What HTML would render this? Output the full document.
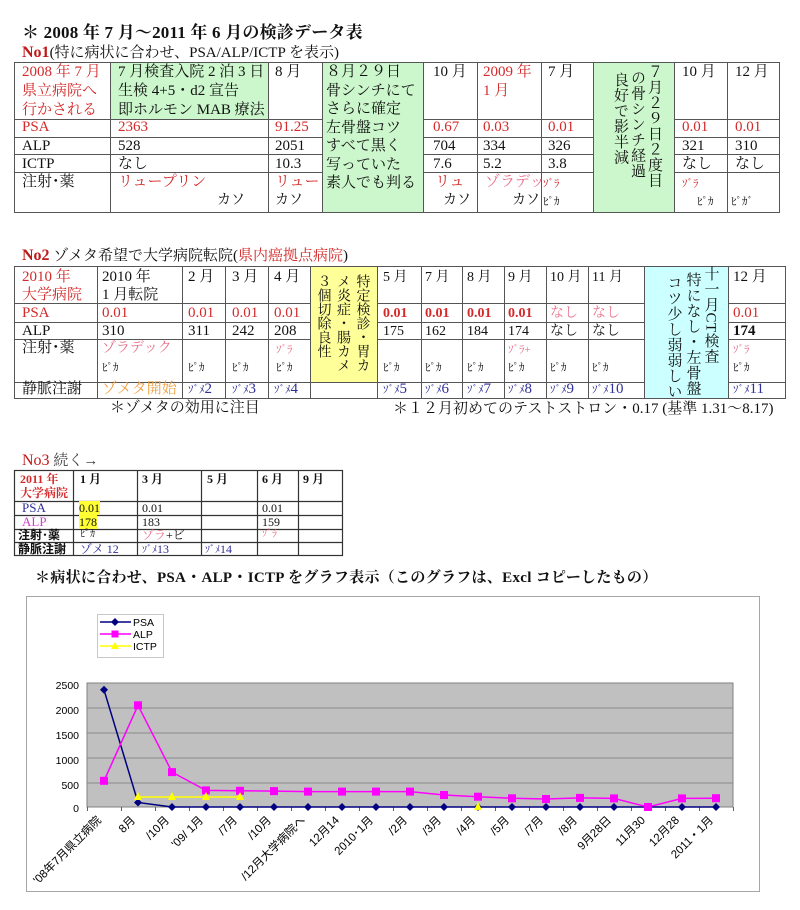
<!DOCTYPE html>
<html><head><meta charset="utf-8">
<style>
html,body{margin:0;padding:0;background:#fff;}
body{width:800px;height:910px;position:relative;overflow:hidden;font-family:"Liberation Serif","Noto Serif CJK SC",serif;color:#111;}
.t{position:absolute;white-space:nowrap;font-size:15px;line-height:19px;}
.r{color:#d42a2a}
.dr{color:#c01818}
.pk{color:#e8708a}
.or{color:#f0a040}
.bl{color:#30309a}
.mg{color:#cc44cc}
.s{font-size:11px}
.v{position:absolute;writing-mode:vertical-rl;text-orientation:upright;white-space:nowrap;font-size:15px;letter-spacing:0.5px;}
.g{font-family:"Liberation Sans","Noto Sans CJK JP",sans-serif;}
.n3{font-size:12px;line-height:14px;}
.hl{background:#ffff33;}
</style></head><body>
<svg width="800" height="910" style="position:absolute;left:0;top:0" xmlns="http://www.w3.org/2000/svg">
<!-- No1 -->
<rect x="110" y="62" width="158" height="57" fill="#ccf7cc"/>
<rect x="322" y="62" width="101" height="150" fill="#ccf7cc"/>
<rect x="593" y="62" width="81" height="150" fill="#ccf7cc"/>
<g stroke="#555" stroke-width="1" fill="none">
<rect x="14.5" y="62.5" width="765" height="150"/>
<path d="M110.5 62V212M268.5 62V212M322.5 62V212M423.5 62V212M477.5 62V212M541.5 62V212M593.5 62V212M674.5 62V212M727.5 62V212"/>
<path d="M14 119.5H322M423 119.5H593M674 119.5H779M14 137.5H322M423 137.5H593M674 137.5H779M14 154.5H322M423 154.5H593M674 154.5H779M14 172.5H322M423 172.5H593M674 172.5H779"/>
</g>
<!-- No2 -->
<rect x="310" y="266" width="67" height="116" fill="#ffff99"/>
<rect x="644" y="266" width="84" height="132" fill="#ccffff"/>
<g stroke="#555" stroke-width="1" fill="none">
<rect x="14.5" y="266.5" width="771" height="132"/>
<path d="M97.5 266V398M182.5 266V398M225.5 266V398M268.5 266V398M310.5 266V398M377.5 266V398M421.5 266V398M462.5 266V398M504.5 266V398M546.5 266V398M588.5 266V398M644.5 266V398M728.5 266V398"/>
<path d="M14 303.5H310M377 303.5H644M728 303.5H785M14 322.5H310M377 322.5H644M728 322.5H785M14 339.5H310M377 339.5H644M728 339.5H785M14 382.5H644M728 382.5H785"/>
</g>
<!-- No3 -->
<g stroke="#333" stroke-width="1.2" fill="none">
<rect x="14.5" y="470.5" width="328" height="85"/>
<path d="M73.5 470V555M137.5 470V555M201.5 470V555M257.5 470V555M298.5 470V555"/>
<path d="M14 501.5H342M14 515.5H342M14 529.5H342M14 542.5H342"/>
</g>
<!-- Chart -->
<rect x="26.5" y="596.5" width="733" height="295" fill="#fff" stroke="#a6a6a6"/>
<rect x="97.5" y="614.5" width="66" height="43" fill="#fff" stroke="#c8c8c8"/>
<line x1="100" y1="622" x2="131" y2="622" stroke="#000080" stroke-width="1.5"/>
<polygon points="115,618 119,622 115,626 111,622" fill="#000080"/>
<line x1="100" y1="634" x2="131" y2="634" stroke="#ff00ff" stroke-width="1.5"/>
<rect x="111.5" y="630.5" width="7" height="7" fill="#ff00ff"/>
<line x1="100" y1="646" x2="131" y2="646" stroke="#ffff00" stroke-width="1.5"/>
<polygon points="115,642 119,649 111,649" fill="#ffff00"/>
<g class="g" font-size="10.5" fill="#000">
<text x="133" y="626">PSA</text>
<text x="133" y="638">ALP</text>
<text x="133" y="650">ICTP</text>
</g>
<rect x="87" y="683" width="646" height="124" fill="#c0c0c0" stroke="#808080"/>
<g stroke="#8a8a8a" stroke-width="1">
<line x1="87" y1="708" x2="733" y2="708"/>
<line x1="87" y1="733" x2="733" y2="733"/>
<line x1="87" y1="758" x2="733" y2="758"/>
<line x1="87" y1="783" x2="733" y2="783"/>
</g>
<g stroke="#606060" stroke-width="1">
<path d="M87.5 807V811M121.5 807V811M155.5 807V811M189.5 807V811M223.5 807V811M257.5 807V811M291.5 807V811M325.5 807V811M359.5 807V811M393.5 807V811M427.5 807V811M461.5 807V811M495.5 807V811M529.5 807V811M563.5 807V811M597.5 807V811M631.5 807V811M665.5 807V811M699.5 807V811M733.5 807V811"/>
</g>
<g class="g" font-size="10.5" fill="#000" text-anchor="end">
<text x="79" y="689">2500</text>
<text x="79" y="714">2000</text>
<text x="79" y="739">1500</text>
<text x="79" y="764">1000</text>
<text x="79" y="789">500</text>
<text x="79" y="812">0</text>
</g>
<!-- PSA -->
<polyline fill="none" stroke="#000080" stroke-width="1.5" points="104,689.8 138,802.5 172,807 206,807 240,807 274,807 308,807 342,807 376,807 410,807 444,807 478,807 512,807 546,807 580,807 614,807 648,807 682,807 716,807"/>
<g fill="#000080">
<polygon points="104,685.8 108,689.8 104,693.8 100,689.8"/>
<polygon points="138,798.5 142,802.5 138,806.5 134,802.5"/>
<polygon points="172,803 176,807 172,811 168,807"/>
<polygon points="206,803 210,807 206,811 202,807"/>
<polygon points="240,803 244,807 240,811 236,807"/>
<polygon points="274,803 278,807 274,811 270,807"/>
<polygon points="308,803 312,807 308,811 304,807"/>
<polygon points="342,803 346,807 342,811 338,807"/>
<polygon points="376,803 380,807 376,811 372,807"/>
<polygon points="410,803 414,807 410,811 406,807"/>
<polygon points="444,803 448,807 444,811 440,807"/>
<polygon points="478,803 482,807 478,811 474,807"/>
<polygon points="512,803 516,807 512,811 508,807"/>
<polygon points="546,803 550,807 546,811 542,807"/>
<polygon points="580,803 584,807 580,811 576,807"/>
<polygon points="614,803 618,807 614,811 610,807"/>
<polygon points="648,803 652,807 648,811 644,807"/>
<polygon points="682,803 686,807 682,811 678,807"/>
<polygon points="716,803 720,807 716,811 712,807"/>
</g>
<!-- ALP -->
<polyline fill="none" stroke="#ff00ff" stroke-width="1.5" points="104,780.8 138,705.3 172,772.1 206,790.4 240,790.8 274,791.1 308,791.6 342,791.6 376,791.6 410,791.6 444,795 478,796.7 512,798.3 546,799 580,797.9 614,798.4 648,807 682,798.4 716,798.2"/>
<g fill="#ff00ff">
<rect x="100" y="776.8" width="8" height="8"/>
<rect x="134" y="701.3" width="8" height="8"/>
<rect x="168" y="768.1" width="8" height="8"/>
<rect x="202" y="786.4" width="8" height="8"/>
<rect x="236" y="786.8" width="8" height="8"/>
<rect x="270" y="787.1" width="8" height="8"/>
<rect x="304" y="787.6" width="8" height="8"/>
<rect x="338" y="787.6" width="8" height="8"/>
<rect x="372" y="787.6" width="8" height="8"/>
<rect x="406" y="787.6" width="8" height="8"/>
<rect x="440" y="791" width="8" height="8"/>
<rect x="474" y="792.7" width="8" height="8"/>
<rect x="508" y="794.3" width="8" height="8"/>
<rect x="542" y="795" width="8" height="8"/>
<rect x="576" y="793.9" width="8" height="8"/>
<rect x="610" y="794.4" width="8" height="8"/>
<rect x="644" y="803" width="8" height="8"/>
<rect x="678" y="794.4" width="8" height="8"/>
<rect x="712" y="794.2" width="8" height="8"/>
</g>
<!-- ICTP -->
<polyline fill="none" stroke="#ffff00" stroke-width="1.5" points="138,797 172,797 206,797 240,797"/>
<g fill="#ffff00">
<polygon points="138,792 142,800 134,800"/>
<polygon points="172,792 176,800 168,800"/>
<polygon points="206,792 210,800 202,800"/>
<polygon points="240,792 244,800 236,800"/>
<polygon points="478,802 482,810 474,810"/>
</g>
<g class="g" font-size="11.5" fill="#000" text-anchor="end">
<text transform="translate(99,818) rotate(-45)" dy="0.35em">'08年7月県立病院</text>
<text transform="translate(133,818) rotate(-45)" dy="0.35em">8月</text>
<text transform="translate(167,818) rotate(-45)" dy="0.35em">/10月</text>
<text transform="translate(201,818) rotate(-45)" dy="0.35em">'09/ 1月</text>
<text transform="translate(235,818) rotate(-45)" dy="0.35em">/7月</text>
<text transform="translate(269,818) rotate(-45)" dy="0.35em">/10月</text>
<text transform="translate(303,818) rotate(-45)" dy="0.35em">/12月大学病院へ</text>
<text transform="translate(337,818) rotate(-45)" dy="0.35em">12月14</text>
<text transform="translate(371,818) rotate(-45)" dy="0.35em">2010･1月</text>
<text transform="translate(405,818) rotate(-45)" dy="0.35em">/2月</text>
<text transform="translate(439,818) rotate(-45)" dy="0.35em">/3月</text>
<text transform="translate(473,818) rotate(-45)" dy="0.35em">/4月</text>
<text transform="translate(507,818) rotate(-45)" dy="0.35em">/5月</text>
<text transform="translate(541,818) rotate(-45)" dy="0.35em">/7月</text>
<text transform="translate(575,818) rotate(-45)" dy="0.35em">/8月</text>
<text transform="translate(609,818) rotate(-45)" dy="0.35em">9月28日</text>
<text transform="translate(643,818) rotate(-45)" dy="0.35em">11月30</text>
<text transform="translate(677,818) rotate(-45)" dy="0.35em">12月28</text>
<text transform="translate(711,818) rotate(-45)" dy="0.35em">2011・1月</text>
</g>
</svg>

<!-- Titles -->
<div class="t" style="left:22px;top:23px;font-size:17px;font-weight:bold;line-height:20px;letter-spacing:0.2px">＊ 2008 年 7 月〜2011 年 6 月の検診データ表</div>
<div class="t" style="left:22px;top:43px"><b class="dr" style="font-size:16px">No1</b>(特に病状に合わせ、PSA/ALP/ICTP を表示)</div>

<!-- No1 row1 -->
<div class="t r" style="left:22px;top:63px">2008 年 7 月<br>県立病院へ<br>行かされる</div>
<div class="t" style="left:118px;top:63px">7 月検査入院 2 泊 3 日<br>生検 4+5・d2 宣告<br>即ホルモン MAB 療法</div>
<div class="t" style="left:275px;top:63px">8 月</div>
<div class="t" style="left:326px;top:63px;line-height:18.5px">８月２９日<br>骨シンチにて<br>さらに確定<br>左骨盤コツ<br>すべて黒く<br>写っていた<br>素人でも判る</div>
<div class="t" style="left:433px;top:63px">10 月</div>
<div class="t r" style="left:483px;top:63px">2009 年<br>1 月</div>
<div class="t" style="left:548px;top:63px">7 月</div>
<div class="v" style="left:645px;top:64px;line-height:17px">７月２９日２度目</div>
<div class="v" style="left:628px;top:70px;line-height:17px">の骨シンチ経過</div>
<div class="v" style="left:611px;top:72px;line-height:17px">良好で影半減</div>
<div class="t" style="left:682px;top:63px">10 月</div>
<div class="t" style="left:735px;top:63px">12 月</div>
<!-- PSA -->
<div class="t r" style="left:22px;top:118px">PSA</div>
<div class="t r" style="left:118px;top:118px">2363</div>
<div class="t r" style="left:275px;top:118px">91.25</div>
<div class="t r" style="left:433px;top:118px">0.67</div>
<div class="t r" style="left:483px;top:118px">0.03</div>
<div class="t r" style="left:548px;top:118px">0.01</div>
<div class="t r" style="left:682px;top:118px">0.01</div>
<div class="t r" style="left:735px;top:118px">0.01</div>
<!-- ALP -->
<div class="t" style="left:22px;top:137px">ALP</div>
<div class="t" style="left:118px;top:137px">528</div>
<div class="t" style="left:275px;top:137px">2051</div>
<div class="t" style="left:433px;top:137px">704</div>
<div class="t" style="left:483px;top:137px">334</div>
<div class="t" style="left:548px;top:137px">326</div>
<div class="t" style="left:682px;top:137px">321</div>
<div class="t" style="left:735px;top:137px">310</div>
<!-- ICTP -->
<div class="t" style="left:22px;top:155px">ICTP</div>
<div class="t" style="left:118px;top:155px">なし</div>
<div class="t" style="left:275px;top:155px">10.3</div>
<div class="t" style="left:433px;top:155px">7.6</div>
<div class="t" style="left:483px;top:155px">5.2</div>
<div class="t" style="left:548px;top:155px">3.8</div>
<div class="t" style="left:682px;top:155px">なし</div>
<div class="t" style="left:735px;top:155px">なし</div>
<!-- 注射 -->
<div class="t" style="left:22px;top:173px">注射･薬</div>
<div class="t r" style="left:118px;top:173px">リュープリン</div>
<div class="t r" style="left:275px;top:173px">リュー</div>
<div class="t r" style="left:435px;top:173px">リュ</div>
<div class="t pk" style="left:485px;top:173px">ゾラデッ</div>
<div class="t r s" style="left:543px;top:175px">ｿﾞﾗ</div>
<div class="t r s" style="left:682px;top:175px">ｿﾞﾗ</div>
<div class="t" style="left:217px;top:191px;font-size:14px">カソ</div>
<div class="t" style="left:275px;top:191px;font-size:14px">カソ</div>
<div class="t" style="left:443px;top:191px;font-size:14px">カソ</div>
<div class="t" style="left:512px;top:191px;font-size:14px">カソ</div>
<div class="t s" style="left:543px;top:193px">ﾋﾟｶ</div>
<div class="t s" style="left:697px;top:193px">ﾋﾟｶ</div>
<div class="t s" style="left:731px;top:193px">ﾋﾟｶﾞ</div>

<!-- No2 -->
<div class="t" style="left:22px;top:246px"><b class="dr" style="font-size:16px">No2</b> ゾメタ希望で大学病院転院(<span class="r">県内癌拠点病院</span>)</div>
<div class="t r" style="left:22px;top:268px;line-height:18px">2010 年<br>大学病院</div>
<div class="t" style="left:102px;top:268px;line-height:18px">2010 年<br>1 月転院</div>
<div class="t" style="left:188px;top:268px">2 月</div>
<div class="t" style="left:232px;top:268px">3 月</div>
<div class="t" style="left:274px;top:268px">4 月</div>
<div class="v" style="left:313px;top:274px;line-height:19.5px;font-size:14px;letter-spacing:0">特定検診・胃カ<br>メ炎症・腸カメ<br>３個切除良性</div>
<div class="t" style="left:383px;top:268px;font-size:14px">5 月</div>
<div class="t" style="left:425px;top:268px;font-size:14px">7 月</div>
<div class="t" style="left:467px;top:268px;font-size:14px">8 月</div>
<div class="t" style="left:508px;top:268px;font-size:14px">9 月</div>
<div class="t" style="left:550px;top:268px;font-size:14px">10 月</div>
<div class="t" style="left:592px;top:268px;font-size:14px">11 月</div>
<div class="v" style="left:701px;top:266px;line-height:18.5px;text-orientation:mixed">十一月CT検査</div>
<div class="v" style="left:683px;top:272px;line-height:18.5px">特になし・左骨盤</div>
<div class="v" style="left:664px;top:275px;line-height:18.5px">コツ少し弱弱しい</div>
<div class="t" style="left:733px;top:268px">12 月</div>
<!-- PSA -->
<div class="t r" style="left:22px;top:304px">PSA</div>
<div class="t r" style="left:102px;top:304px">0.01</div>
<div class="t r" style="left:188px;top:304px">0.01</div>
<div class="t r" style="left:232px;top:304px">0.01</div>
<div class="t r" style="left:274px;top:304px">0.01</div>
<div class="t r" style="left:383px;top:304px;font-size:14px;font-weight:bold">0.01</div>
<div class="t r" style="left:425px;top:304px;font-size:14px;font-weight:bold">0.01</div>
<div class="t r" style="left:467px;top:304px;font-size:14px;font-weight:bold">0.01</div>
<div class="t r" style="left:508px;top:304px;font-size:14px;font-weight:bold">0.01</div>
<div class="t pk" style="left:550px;top:304px;font-size:14px">なし</div>
<div class="t pk" style="left:592px;top:304px;font-size:14px">なし</div>
<div class="t r" style="left:733px;top:304px">0.01</div>
<!-- ALP -->
<div class="t" style="left:22px;top:322px">ALP</div>
<div class="t" style="left:102px;top:322px">310</div>
<div class="t" style="left:188px;top:322px">311</div>
<div class="t" style="left:232px;top:322px">242</div>
<div class="t" style="left:274px;top:322px">208</div>
<div class="t" style="left:383px;top:322px;font-size:14px">175</div>
<div class="t" style="left:425px;top:322px;font-size:14px">162</div>
<div class="t" style="left:467px;top:322px;font-size:14px">184</div>
<div class="t" style="left:508px;top:322px;font-size:14px">174</div>
<div class="t" style="left:550px;top:322px;font-size:14px">なし</div>
<div class="t" style="left:592px;top:322px;font-size:14px">なし</div>
<div class="t" style="left:733px;top:322px;font-weight:bold">174</div>
<!-- 注射 -->
<div class="t" style="left:22px;top:339px">注射･薬</div>
<div class="t pk" style="left:102px;top:339px;font-size:14px">ゾラデック</div>
<div class="t pk s" style="left:276px;top:341px">ｿﾞﾗ</div>
<div class="t pk s" style="left:508px;top:341px">ｿﾞﾗ+</div>
<div class="t pk s" style="left:733px;top:341px">ｿﾞﾗ</div>
<div class="t s" style="left:102px;top:359px">ﾋﾟｶ</div>
<div class="t s" style="left:188px;top:359px">ﾋﾟｶ</div>
<div class="t s" style="left:232px;top:359px">ﾋﾟｶ</div>
<div class="t s" style="left:276px;top:359px">ﾋﾟｶ</div>
<div class="t s" style="left:383px;top:359px">ﾋﾟｶ</div>
<div class="t s" style="left:425px;top:359px">ﾋﾟｶ</div>
<div class="t s" style="left:467px;top:359px">ﾋﾟｶ</div>
<div class="t s" style="left:508px;top:359px">ﾋﾟｶ</div>
<div class="t s" style="left:550px;top:359px">ﾋﾟｶ</div>
<div class="t s" style="left:592px;top:359px">ﾋﾟｶ</div>
<div class="t s" style="left:733px;top:359px">ﾋﾟｶ</div>
<!-- 静脈 -->
<div class="t" style="left:22px;top:380px">静脈注謝</div>
<div class="t or" style="left:102px;top:380px">ゾメタ開始</div>
<div class="t bl" style="left:188px;top:380px"><span class="s">ｿﾞﾒ</span>2</div>
<div class="t bl" style="left:232px;top:380px"><span class="s">ｿﾞﾒ</span>3</div>
<div class="t bl" style="left:274px;top:380px"><span class="s">ｿﾞﾒ</span>4</div>
<div class="t bl" style="left:383px;top:380px"><span class="s">ｿﾞﾒ</span>5</div>
<div class="t bl" style="left:425px;top:380px"><span class="s">ｿﾞﾒ</span>6</div>
<div class="t bl" style="left:467px;top:380px"><span class="s">ｿﾞﾒ</span>7</div>
<div class="t bl" style="left:508px;top:380px"><span class="s">ｿﾞﾒ</span>8</div>
<div class="t bl" style="left:550px;top:380px"><span class="s">ｿﾞﾒ</span>9</div>
<div class="t bl" style="left:592px;top:380px"><span class="s">ｿﾞﾒ</span>10</div>
<div class="t bl" style="left:733px;top:380px"><span class="s">ｿﾞﾒ</span>11</div>
<div class="t" style="left:110px;top:399px">＊ゾメタの効用に注目</div>
<div class="t" style="left:393px;top:400px">＊１２月初めてのテストストロン・0.17 (基準 1.31～8.17)</div>

<!-- No3 -->
<div class="t" style="left:22px;top:451px"><span class="dr" style="font-size:16px">No3</span> <span style="color:#444">続く→</span></div>
<div class="t r n3" style="left:20px;top:472px;font-weight:bold">2011 年<br>大学病院</div>
<div class="t n3" style="left:80px;top:472px;font-weight:bold">1 月</div>
<div class="t n3" style="left:142px;top:472px;font-weight:bold">3 月</div>
<div class="t n3" style="left:207px;top:472px;font-weight:bold">5 月</div>
<div class="t n3" style="left:262px;top:472px;font-weight:bold">6 月</div>
<div class="t n3" style="left:303px;top:472px;font-weight:bold">9 月</div>
<div class="t n3 bl" style="left:22px;top:501px;font-size:13px">PSA</div>
<div class="t n3" style="left:79px;top:501px"><span class="hl">0.01</span></div>
<div class="t n3" style="left:142px;top:501px">0.01</div>
<div class="t n3" style="left:262px;top:501px">0.01</div>
<div class="t n3 mg" style="left:22px;top:515px;font-size:13px">ALP</div>
<div class="t n3" style="left:79px;top:515px"><span class="hl">178</span></div>
<div class="t n3" style="left:142px;top:515px">183</div>
<div class="t n3" style="left:262px;top:515px">159</div>
<div class="t n3 g" style="left:18px;top:528px;font-weight:bold">注射･薬</div>
<div class="t n3" style="left:80px;top:528px;font-size:10px">ﾋﾟｶ</div>
<div class="t n3" style="left:142px;top:528px"><span class="pk">ゾラ</span>+ビ</div>
<div class="t n3 pk" style="left:262px;top:528px;font-size:10px">ｿﾞﾗ</div>
<div class="t n3 g" style="left:18px;top:542px;font-weight:bold">静脈注謝</div>
<div class="t n3 bl" style="left:80px;top:542px">ゾメ 12</div>
<div class="t n3 bl" style="left:142px;top:542px"><span style="font-size:10px">ｿﾞﾒ</span>13</div>
<div class="t n3 bl" style="left:205px;top:542px"><span style="font-size:10px">ｿﾞﾒ</span>14</div>

<!-- Chart title -->
<div class="t" style="left:35px;top:569px;font-weight:bold;line-height:18px;letter-spacing:0.3px">＊病状に合わせ、PSA・ALP・ICTP をグラフ表示（このグラフは、Excl コピーしたもの）</div>
</body></html>
